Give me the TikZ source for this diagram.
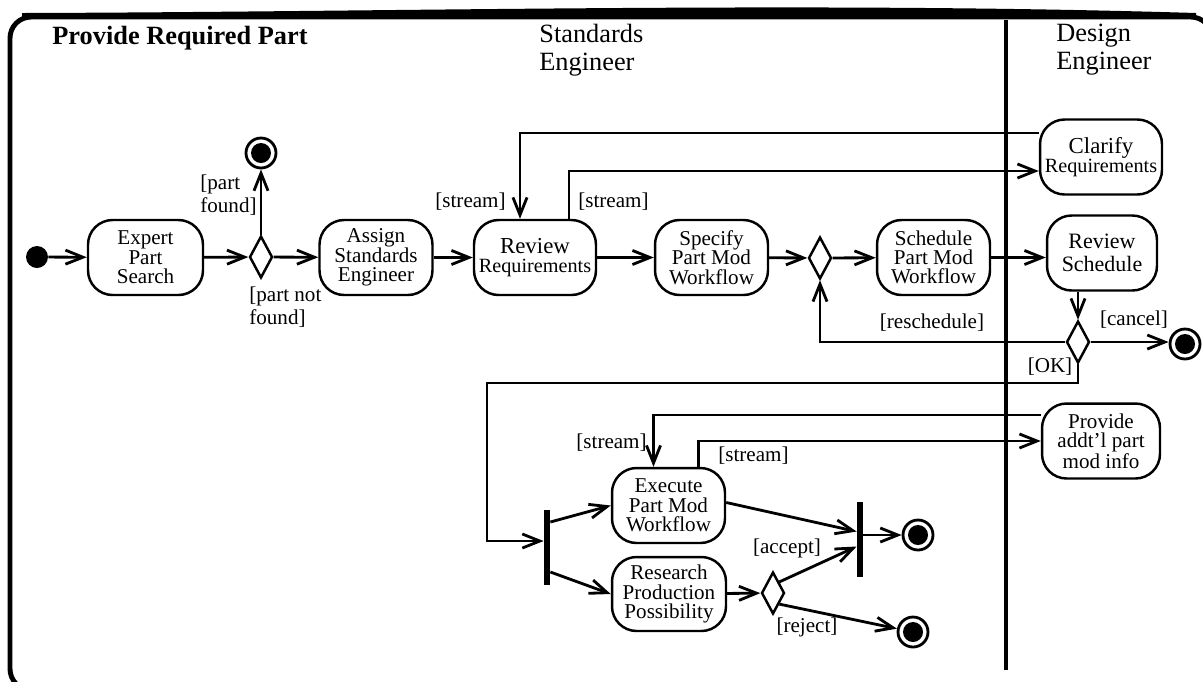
\documentclass[tikz,border=0pt]{standalone}
\usepackage{fontspec}
\setmainfont{Liberation Serif}
\usetikzlibrary{arrows.meta,shapes.geometric,calc}

\begin{document}
\begin{tikzpicture}[x=0.02cm,y=-0.02cm,>={Straight Barb[length=10pt,width=8pt]},
  act/.style={draw,line width=1.4pt,rounded corners=14pt,align=center,minimum height=1.5cm,inner sep=1pt,font=\fontsize{12}{11}\selectfont},
  dec/.style={draw,diamond,line width=1.4pt,inner sep=0pt,minimum width=0.46cm,minimum height=0.84cm},
  bar/.style={fill,inner sep=0pt,minimum width=0.12cm,minimum height=1.5cm},
  fin/.style={circle,draw,line width=1.6pt,minimum size=0.6cm,inner sep=0pt,path picture={\fill (path picture bounding box.center) circle (0.2cm);}},
  guard/.style={font=\fontsize{12}{13}\selectfont,inner sep=0pt},
  flow/.style={->,line width=1.6pt}]
  \useasboundingbox (0,0) rectangle (1203,681);
  \draw[line width=2.8pt,rounded corners=12pt] (10,17) rectangle (1212,690);
  \fill (22,13) .. controls (400,12) and (800,1) .. (1196,13) -- (1196,18) -- (22,18) -- cycle;
  \draw[line width=2.8pt] (1006,20) -- (1006,670);
  \node[font=\bfseries\fontsize{15}{16}\selectfont,anchor=base west,inner sep=0pt] (title) at (52,44) {Provide Required Part};
  \node[font=\fontsize{15}{16}\selectfont,align=left,anchor=west,inner sep=0pt] (lanese) at (539,50) {Standards\\Engineer};
  \node[font=\fontsize{15}{16}\selectfont,align=left,anchor=west,inner sep=0pt] (lanede) at (1056,50) {Design\\Engineer};

  \node[circle,fill,minimum size=0.44cm,inner sep=0pt] (start) at (37,257) {};
  \node[act,minimum width=2.3cm] (expert) at (145.5,257.5) {Expert\\Part\\Search};
  \node[dec] (d1) at (261,257) {};
  \node[fin] (f1) at (261,153) {};
  \node[act,minimum width=2.26cm] (assign) at (376,257.5) {Assign\\Standards\\Engineer};
  \node[act,minimum width=2.44cm] (review) at (535,257.5) {{\fontsize{13}{13}\selectfont Review}\\{\fontsize{11.5}{14}\selectfont Requirements}};
  \node[act,minimum width=2.26cm] (specify) at (711.5,257.5) {Specify\\Part Mod\\Workflow};
  \node[dec] (d2) at (820,258) {};
  \node[act,minimum width=2.26cm] (schedule) at (933.5,257.5) {Schedule\\Part Mod\\Workflow};
  \node[act,minimum width=2.44cm] (clarify) at (1101,157) {{\fontsize{13}{13}\selectfont Clarify}\\{\fontsize{11.5}{14}\selectfont Requirements}};
  \node[act,minimum width=2.2cm,font=\fontsize{12.5}{13}\selectfont] (rsched) at (1102,253) {Review\\Schedule};
  \node[dec] (d3) at (1078,342) {};
  \node[fin] (f3) at (1185,344) {};
  \node[act,minimum width=2.36cm] (provide) at (1101,441) {Provide\\addt'l part\\mod info};
  \node[act,minimum width=2.26cm] (execute) at (668.5,505.5) {Execute\\Part Mod\\Workflow};
  \node[act,minimum width=2.28cm,minimum height=1.48cm] (research) at (669,594) {Research\\Production\\Possibility};
  \node[bar] (fork) at (547,547) {};
  \node[bar] (join) at (860,539.5) {};
  \node[dec] (d4) at (773,593) {};
  \node[fin] (f4) at (918,535) {};
  \node[fin] (f5) at (913,632) {};

  \node[guard,align=left,anchor=west] (gfound) at (200,195) {[part\\found]};
  \node[guard,align=left,anchor=west] (gnotfound) at (249,307) {[part not\\found]};
  \node[guard,anchor=east] (gs1) at (506,202) {[stream]};
  \node[guard,anchor=west] (gs2) at (578,202) {[stream]};
  \node[guard] (gresched) at (932,323) {[reschedule]};
  \node[guard] (gcancel) at (1134,320) {[cancel]};
  \node[guard] (gok) at (1050,367) {[OK]};
  \node[guard,anchor=east] (gs3) at (647,443) {[stream]};
  \node[guard,anchor=west] (gs4) at (718,456) {[stream]};
  \node[guard] (gaccept) at (787,548) {[accept]};
  \node[guard] (greject) at (807,627) {[reject]};

  \draw[flow] (start) -- (expert);
  \draw[flow] (expert) -- (d1);
  \draw[flow] (d1) -- (f1);
  \draw[flow] (d1) -- (assign);
  \draw[flow] (assign) -- (review);
  \draw[flow] (review) -- (specify);
  \draw[flow] (specify) -- (d2);
  \draw[flow] (d2) -- (schedule);
  \draw[flow] (schedule.east) -- (schedule.east -| rsched.west);
  \draw[flow] ($(clarify.west)+(0,-24)$) -| ($(review.north)+(-15,0)$);
  \draw[flow] ($(review.north)+(34,0)$) |- ($(clarify.west)+(0,14)$);
  \draw[flow] (rsched.south -| d3.north) -- (d3.north);
  \draw[flow] (d3.east) -- (d3.east -| f3.west);
  \draw[flow] (d3.west) -| (d2.south);
  \coordinate (okbend) at (487,383);
  \draw[flow] (d3.south) |- (okbend) |- ($(fork.west)+(0,-6)$);
  \draw[flow] ($(fork.east)+(0,-25)$) -- (execute.west);
  \draw[flow] ($(fork.east)+(0,25)$) -- (research.west);
  \draw[flow] ($(provide.west)+(0,-26)$) -| ($(execute.north)+(-15,0)$);
  \draw[flow] ($(execute.north)+(30,0)$) |- (provide.west);
  \draw[flow] ($(execute.east)+(0,-3)$) -- ($(join.west)+(0,-8)$);
  \draw[flow] (research) -- (d4);
  \draw[flow] (d4.north east) -- ($(join.west)+(0,7)$);
  \draw[flow] (f4 -| join.east) -- (f4);
  \draw[flow] (d4.south east) -- (f5);
\end{tikzpicture}
\end{document}
